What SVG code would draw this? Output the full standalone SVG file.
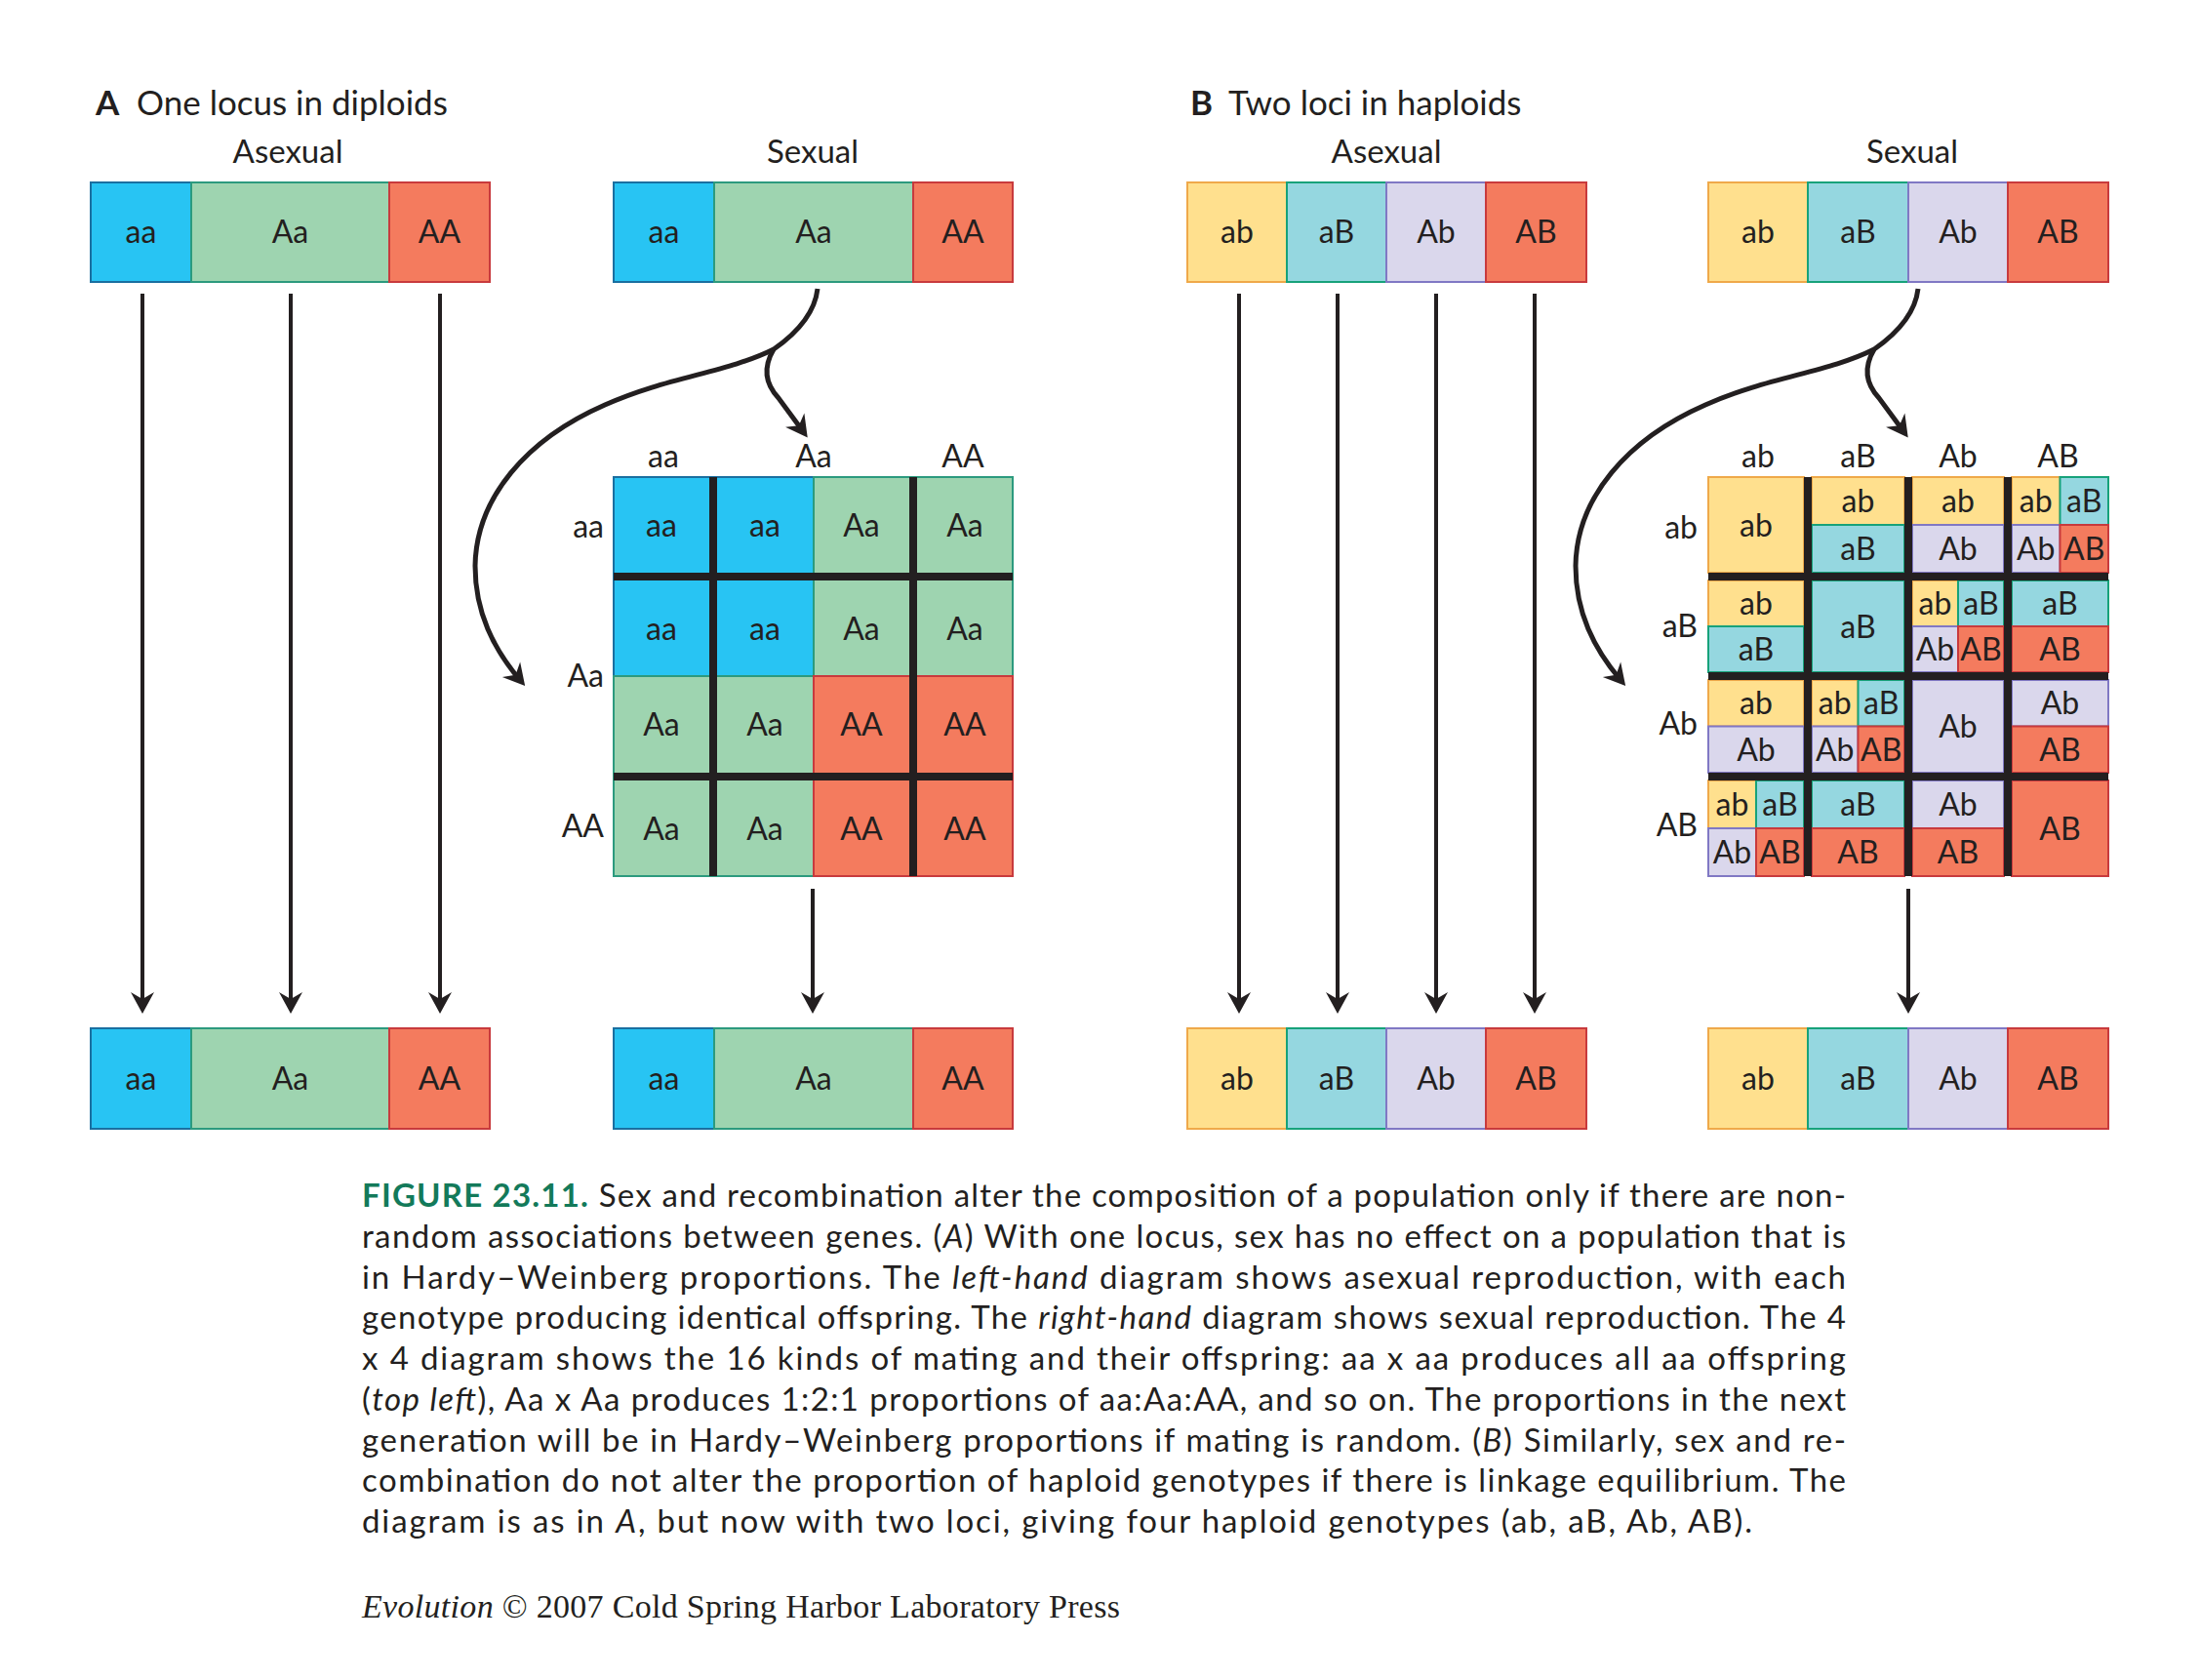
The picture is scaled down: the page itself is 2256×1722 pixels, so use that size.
<svg xmlns="http://www.w3.org/2000/svg" width="2256" height="1722" viewBox="0 0 2256 1722">
<style>
text{font-family:Lato,"Liberation Sans","DejaVu Sans",sans-serif;fill:#231F20}
.lb{font-size:32px;text-anchor:middle}
.rl{font-size:32px;text-anchor:end}
.hd{font-size:33px;text-anchor:middle}
.ti{font-size:35px}
.cap{font-size:33px}
.ft{font-family:"Liberation Serif","DejaVu Serif",serif;font-size:34px}
.fig{fill:#137A5A;font-weight:bold}
.blue{fill:#28C4F3;stroke:#1A6FA0;stroke-width:2}
.green{fill:#9ED4B0;stroke:#2C9A7E;stroke-width:2}
.red{fill:#F47B5E;stroke:#C83A3D;stroke-width:2}
.y{fill:#FFE08E;stroke:#EFA94A;stroke-width:2}
.t{fill:#95D7E0;stroke:#17A27A;stroke-width:2}
.l{fill:#DAD7EC;stroke:#8078C4;stroke-width:2}
.thick{stroke:#231F20;stroke-width:8;fill:none}
.arr{stroke:#231F20;stroke-width:4;fill:none;marker-end:url(#ah)}
.crv{stroke:#231F20;stroke-width:5;fill:none}
</style>
<defs>
<marker id="ah" markerUnits="userSpaceOnUse" viewBox="-24 -14 26 28" refX="-8" refY="0" markerWidth="26" markerHeight="28" orient="auto" overflow="visible">
<path d="M0 0 L-22 -12 L-15 0 L-22 12 Z" fill="#231F20"/>
</marker>
</defs>

<!-- Titles -->
<g id="title-A">
<text class="ti" x="98" y="118"><tspan font-weight="bold">A</tspan><tspan x="140">One locus in diploids</tspan></text>
<text class="hd" x="295" y="167">Asexual</text>
<text class="hd" x="833" y="167">Sexual</text>
</g>
<g id="title-B">
<text class="ti" x="1220" y="118"><tspan font-weight="bold">B</tspan><tspan x="1259">Two loci in haploids</tspan></text>
<text class="hd" x="1421" y="167">Asexual</text>
<text class="hd" x="1960" y="167">Sexual</text>
</g>

<!-- Panel A bars -->
<g id="A-asex-top">
<rect class="blue" x="93" y="187" width="103" height="102"/>
<rect class="green" x="196" y="187" width="203" height="102"/>
<rect class="red" x="399" y="187" width="103" height="102"/>
<text class="lb" x="144.5" y="249">aa</text><text class="lb" x="297.5" y="249">Aa</text><text class="lb" x="450.5" y="249">AA</text>
</g>
<g id="A-sex-top">
<rect class="blue" x="629" y="187" width="103" height="102"/>
<rect class="green" x="732" y="187" width="204" height="102"/>
<rect class="red" x="936" y="187" width="102" height="102"/>
<text class="lb" x="680.5" y="249">aa</text><text class="lb" x="834" y="249">Aa</text><text class="lb" x="987" y="249">AA</text>
</g>
<g id="A-asex-bottom">
<rect class="blue" x="93" y="1054" width="103" height="103"/>
<rect class="green" x="196" y="1054" width="203" height="103"/>
<rect class="red" x="399" y="1054" width="103" height="103"/>
<text class="lb" x="144.5" y="1117">aa</text><text class="lb" x="297.5" y="1117">Aa</text><text class="lb" x="450.5" y="1117">AA</text>
</g>
<g id="A-sex-bottom">
<rect class="blue" x="629" y="1054" width="103" height="103"/>
<rect class="green" x="732" y="1054" width="204" height="103"/>
<rect class="red" x="936" y="1054" width="102" height="103"/>
<text class="lb" x="680.5" y="1117">aa</text><text class="lb" x="834" y="1117">Aa</text><text class="lb" x="987" y="1117">AA</text>
</g>

<!-- Panel A grid -->
<g id="A-grid">
<text class="lb" x="680" y="479">aa</text><text class="lb" x="834" y="479">Aa</text><text class="lb" x="987" y="479">AA</text>
<text class="rl" x="619" y="551">aa</text><text class="rl" x="619" y="704">Aa</text><text class="rl" x="619" y="858">AA</text>
<rect class="blue" x="629" y="489" width="102" height="102"/><rect class="blue" x="731" y="489" width="103" height="102"/>
<rect class="green" x="834" y="489" width="102" height="102"/><rect class="green" x="936" y="489" width="102" height="102"/>
<rect class="blue" x="629" y="591" width="102" height="102"/><rect class="blue" x="731" y="591" width="103" height="102"/>
<rect class="green" x="834" y="591" width="102" height="102"/><rect class="green" x="936" y="591" width="102" height="102"/>
<rect class="green" x="629" y="693" width="102" height="103"/><rect class="green" x="731" y="693" width="103" height="103"/>
<rect class="red" x="834" y="693" width="102" height="103"/><rect class="red" x="936" y="693" width="102" height="103"/>
<rect class="green" x="629" y="796" width="102" height="102"/><rect class="green" x="731" y="796" width="103" height="102"/>
<rect class="red" x="834" y="796" width="102" height="102"/><rect class="red" x="936" y="796" width="102" height="102"/>
<path class="thick" d="M731 489V898M936 489V898M629 591H1038M629 796H1038"/>
<text class="lb" x="678" y="550">aa</text><text class="lb" x="784" y="550">aa</text><text class="lb" x="883" y="550">Aa</text><text class="lb" x="989" y="550">Aa</text>
<text class="lb" x="678" y="656">aa</text><text class="lb" x="784" y="656">aa</text><text class="lb" x="883" y="656">Aa</text><text class="lb" x="989" y="656">Aa</text>
<text class="lb" x="678" y="754">Aa</text><text class="lb" x="784" y="754">Aa</text><text class="lb" x="883" y="754">AA</text><text class="lb" x="989" y="754">AA</text>
<text class="lb" x="678" y="861">Aa</text><text class="lb" x="784" y="861">Aa</text><text class="lb" x="883" y="861">AA</text><text class="lb" x="989" y="861">AA</text>
</g>

<!-- Panel B bars -->
<g id="B-asex-top">
<rect class="y" x="1217" y="187" width="102" height="102"/><rect class="t" x="1319" y="187" width="102" height="102"/>
<rect class="l" x="1421" y="187" width="102" height="102"/><rect class="red" x="1523" y="187" width="103" height="102"/>
<text class="lb" x="1268" y="249">ab</text><text class="lb" x="1370" y="249">aB</text><text class="lb" x="1472" y="249">Ab</text><text class="lb" x="1574.5" y="249">AB</text>
</g>
<g id="B-sex-top">
<rect class="y" x="1751" y="187" width="102" height="102"/><rect class="t" x="1853" y="187" width="103" height="102"/>
<rect class="l" x="1956" y="187" width="102" height="102"/><rect class="red" x="2058" y="187" width="103" height="102"/>
<text class="lb" x="1802" y="249">ab</text><text class="lb" x="1904.5" y="249">aB</text><text class="lb" x="2007" y="249">Ab</text><text class="lb" x="2109.5" y="249">AB</text>
</g>
<g id="B-asex-bottom">
<rect class="y" x="1217" y="1054" width="102" height="103"/><rect class="t" x="1319" y="1054" width="102" height="103"/>
<rect class="l" x="1421" y="1054" width="102" height="103"/><rect class="red" x="1523" y="1054" width="103" height="103"/>
<text class="lb" x="1268" y="1117">ab</text><text class="lb" x="1370" y="1117">aB</text><text class="lb" x="1472" y="1117">Ab</text><text class="lb" x="1574.5" y="1117">AB</text>
</g>
<g id="B-sex-bottom">
<rect class="y" x="1751" y="1054" width="102" height="103"/><rect class="t" x="1853" y="1054" width="103" height="103"/>
<rect class="l" x="1956" y="1054" width="102" height="103"/><rect class="red" x="2058" y="1054" width="103" height="103"/>
<text class="lb" x="1802" y="1117">ab</text><text class="lb" x="1904.5" y="1117">aB</text><text class="lb" x="2007" y="1117">Ab</text><text class="lb" x="2109.5" y="1117">AB</text>
</g>

<!-- Panel B grid -->
<g id="B-grid">
<text class="lb" x="1802" y="479">ab</text><text class="lb" x="1904.5" y="479">aB</text><text class="lb" x="2007" y="479">Ab</text><text class="lb" x="2109.5" y="479">AB</text>
<text class="rl" x="1740" y="552">ab</text><text class="rl" x="1740" y="653">aB</text><text class="rl" x="1740" y="753">Ab</text><text class="rl" x="1740" y="857">AB</text>
<!-- row ab -->
<rect class="y" x="1751" y="489" width="98" height="98"/><text class="lb" x="1800" y="550">ab</text>
<rect class="y" x="1857" y="489" width="95" height="49"/><text class="lb" x="1904.5" y="525">ab</text>
<rect class="t" x="1857" y="538" width="95" height="49"/><text class="lb" x="1904.5" y="574">aB</text>
<rect class="y" x="1960" y="489" width="94" height="49"/><text class="lb" x="2007" y="525">ab</text>
<rect class="l" x="1960" y="538" width="94" height="49"/><text class="lb" x="2007" y="574">Ab</text>
<rect class="y" x="2062" y="489" width="49.5" height="49"/><text class="lb" x="2086.75" y="525">ab</text>
<rect class="t" x="2111.5" y="489" width="49.5" height="49"/><text class="lb" x="2136.25" y="525">aB</text>
<rect class="l" x="2062" y="538" width="49.5" height="49"/><text class="lb" x="2086.75" y="574">Ab</text>
<rect class="red" x="2111.5" y="538" width="49.5" height="49"/><text class="lb" x="2136.25" y="574">AB</text>
<!-- row aB -->
<rect class="y" x="1751" y="595" width="98" height="47"/><text class="lb" x="1800" y="630">ab</text>
<rect class="t" x="1751" y="642" width="98" height="47"/><text class="lb" x="1800" y="677">aB</text>
<rect class="t" x="1857" y="595" width="95" height="94"/><text class="lb" x="1904.5" y="653.5">aB</text>
<rect class="y" x="1960" y="595" width="47" height="47"/><text class="lb" x="1983.5" y="630">ab</text>
<rect class="t" x="2007" y="595" width="47" height="47"/><text class="lb" x="2030.5" y="630">aB</text>
<rect class="l" x="1960" y="642" width="47" height="47"/><text class="lb" x="1983.5" y="677">Ab</text>
<rect class="red" x="2007" y="642" width="47" height="47"/><text class="lb" x="2030.5" y="677">AB</text>
<rect class="t" x="2062" y="595" width="99" height="47"/><text class="lb" x="2111.5" y="630">aB</text>
<rect class="red" x="2062" y="642" width="99" height="47"/><text class="lb" x="2111.5" y="677">AB</text>
<!-- row Ab -->
<rect class="y" x="1751" y="697" width="98" height="47.5"/><text class="lb" x="1800" y="732">ab</text>
<rect class="l" x="1751" y="744.5" width="98" height="47.5"/><text class="lb" x="1800" y="780">Ab</text>
<rect class="y" x="1857" y="697" width="47.5" height="47.5"/><text class="lb" x="1880.75" y="732">ab</text>
<rect class="t" x="1904.5" y="697" width="47.5" height="47.5"/><text class="lb" x="1928.25" y="732">aB</text>
<rect class="l" x="1857" y="744.5" width="47.5" height="47.5"/><text class="lb" x="1880.75" y="780">Ab</text>
<rect class="red" x="1904.5" y="744.5" width="47.5" height="47.5"/><text class="lb" x="1928.25" y="780">AB</text>
<rect class="l" x="1960" y="697" width="94" height="95"/><text class="lb" x="2007" y="756">Ab</text>
<rect class="l" x="2062" y="697" width="99" height="47.5"/><text class="lb" x="2111.5" y="732">Ab</text>
<rect class="red" x="2062" y="744.5" width="99" height="47.5"/><text class="lb" x="2111.5" y="780">AB</text>
<!-- row AB -->
<rect class="y" x="1751" y="800" width="49" height="49"/><text class="lb" x="1775.5" y="836">ab</text>
<rect class="t" x="1800" y="800" width="49" height="49"/><text class="lb" x="1824.5" y="836">aB</text>
<rect class="l" x="1751" y="849" width="49" height="49"/><text class="lb" x="1775.5" y="885">Ab</text>
<rect class="red" x="1800" y="849" width="49" height="49"/><text class="lb" x="1824.5" y="885">AB</text>
<rect class="t" x="1857" y="800" width="95" height="49"/><text class="lb" x="1904.5" y="836">aB</text>
<rect class="red" x="1857" y="849" width="95" height="49"/><text class="lb" x="1904.5" y="885">AB</text>
<rect class="l" x="1960" y="800" width="94" height="49"/><text class="lb" x="2007" y="836">Ab</text>
<rect class="red" x="1960" y="849" width="94" height="49"/><text class="lb" x="2007" y="885">AB</text>
<rect class="red" x="2062" y="800" width="99" height="98"/><text class="lb" x="2111.5" y="861">AB</text>
<path class="thick" d="M1853 489V898M1956 489V898M2058 489V898M1751 591H2161M1751 693H2161M1751 796H2161"/>
</g>

<!-- Connectors -->
<g id="connectors">
<line class="arr" x1="146" y1="301" x2="146" y2="1031"/>
<line class="arr" x1="298" y1="301" x2="298" y2="1031"/>
<line class="arr" x1="451" y1="301" x2="451" y2="1031"/>
<line class="arr" x1="833" y1="911" x2="833" y2="1031"/>
<path class="crv" d="M838 296 C835 322 816 342 793 358 C745 382 685 386 620 415 C540 450 488 510 487 580 C487 628 506 665 533 697" marker-end="url(#ah)"/>
<path class="crv" d="M793 358 C783 375 783 392 798 408 L823 442" marker-end="url(#ah)"/>
<line class="arr" x1="1270" y1="301" x2="1270" y2="1031"/>
<line class="arr" x1="1371" y1="301" x2="1371" y2="1031"/>
<line class="arr" x1="1472" y1="301" x2="1472" y2="1031"/>
<line class="arr" x1="1573" y1="301" x2="1573" y2="1031"/>
<line class="arr" x1="1956" y1="911" x2="1956" y2="1031"/>
<g transform="translate(1128 0)">
<path class="crv" d="M838 296 C835 322 816 342 793 358 C745 382 685 386 620 415 C540 450 488 510 487 580 C487 628 506 665 533 697" marker-end="url(#ah)"/>
<path class="crv" d="M793 358 C783 375 783 392 798 408 L823 442" marker-end="url(#ah)"/>
</g>
</g>

<!-- Caption -->
<g id="caption">
<text class="cap" x="371" y="1237" textLength="1521" lengthAdjust="spacing"><tspan class="fig">FIGURE 23.11.</tspan> Sex and recombination alter the composition of a population only if there are non-</text>
<text class="cap" x="371" y="1279" textLength="1521" lengthAdjust="spacing">random associations between genes. (<tspan font-style="italic">A</tspan>) With one locus, sex has no effect on a population that is</text>
<text class="cap" x="371" y="1321" textLength="1521" lengthAdjust="spacing">in Hardy–Weinberg proportions. The <tspan font-style="italic">left-hand</tspan> diagram shows asexual reproduction, with each</text>
<text class="cap" x="371" y="1362" textLength="1521" lengthAdjust="spacing">genotype producing identical offspring. The <tspan font-style="italic">right-hand</tspan> diagram shows sexual reproduction. The 4</text>
<text class="cap" x="371" y="1404" textLength="1521" lengthAdjust="spacing">x 4 diagram shows the 16 kinds of mating and their offspring: aa x aa produces all aa offspring</text>
<text class="cap" x="371" y="1446" textLength="1521" lengthAdjust="spacing">(<tspan font-style="italic">top left</tspan>), Aa x Aa produces 1:2:1 proportions of aa:Aa:AA, and so on. The proportions in the next</text>
<text class="cap" x="371" y="1488" textLength="1521" lengthAdjust="spacing">generation will be in Hardy–Weinberg proportions if mating is random. (<tspan font-style="italic">B</tspan>) Similarly, sex and re-</text>
<text class="cap" x="371" y="1529" textLength="1521" lengthAdjust="spacing">combination do not alter the proportion of haploid genotypes if there is linkage equilibrium. The</text>
<text class="cap" x="371" y="1571" textLength="1425" lengthAdjust="spacing">diagram is as in <tspan font-style="italic">A</tspan>, but now with two loci, giving four haploid genotypes (ab, aB, Ab, AB).</text>
<text class="ft" x="371" y="1658" textLength="777" lengthAdjust="spacing"><tspan font-style="italic">Evolution</tspan> © 2007 Cold Spring Harbor Laboratory Press</text>
</g>
</svg>
